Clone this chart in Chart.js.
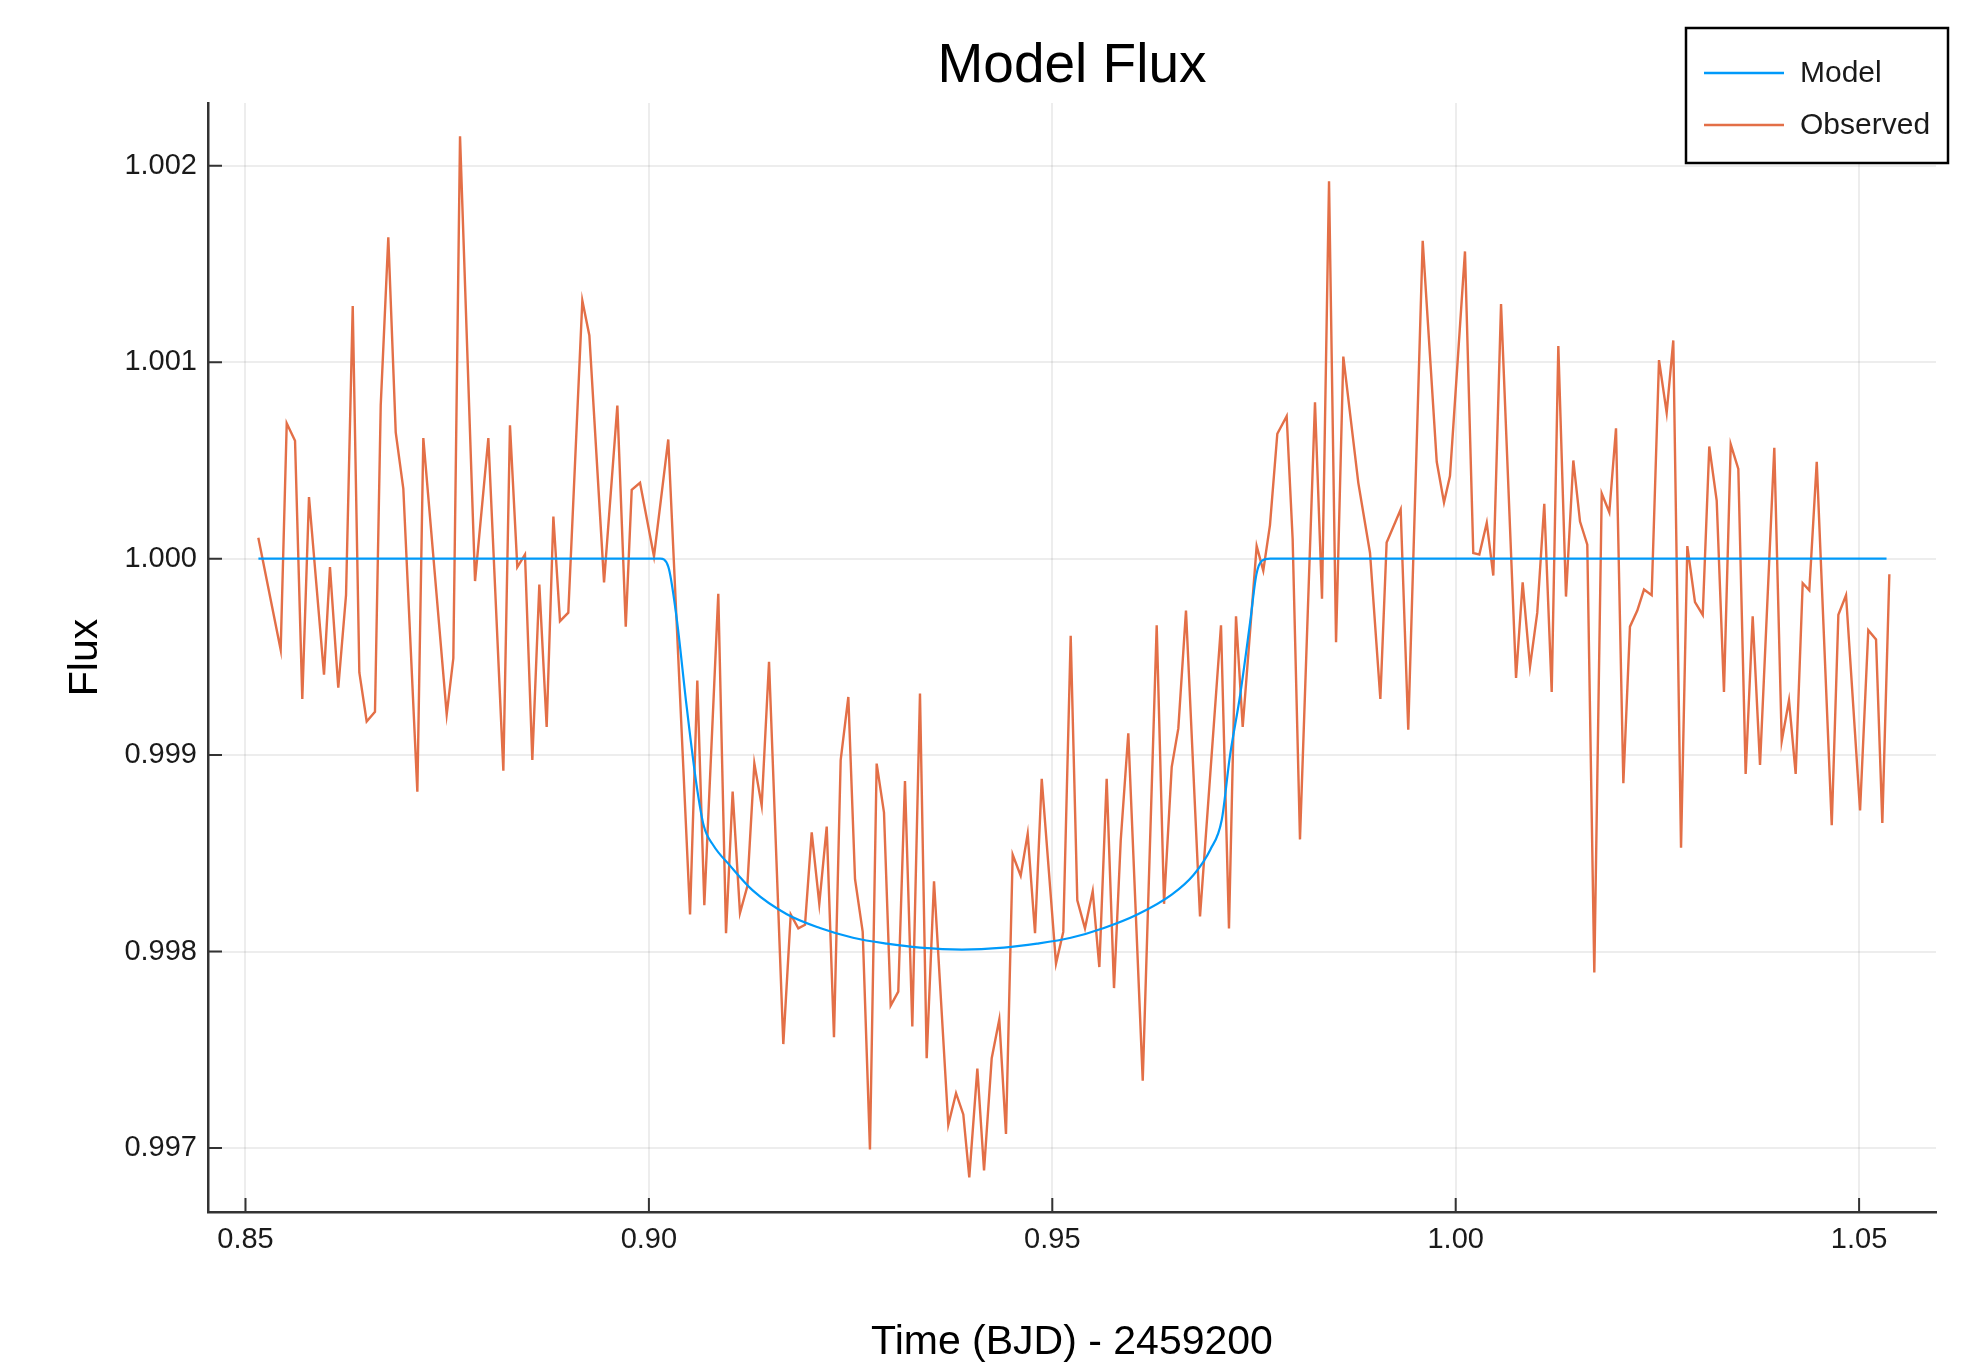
<!DOCTYPE html>
<html>
<head>
<meta charset="utf-8">
<script src="https://cdn.jsdelivr.net/npm/chart.js@4/dist/chart.umd.min.js"></script>
<style>
  html, body { margin: 0; padding: 0; background: #ffffff; }
  #wrap { width: 1969px; height: 1365px; position: relative; }
</style>
</head>
<body>
<div id="wrap"><canvas id="c"></canvas></div>
<script>
// ---- Data ----
const chartTitle = "Model Flux";
const xAxisTitle = "Time (BJD) - 2459200";
const yAxisTitle = "Flux";
const seriesNames = ["Model", "Observed"];

const xTicks = [0.85, 0.90, 0.95, 1.00, 1.05];
const yTicks = [0.997, 0.998, 0.999, 1.000, 1.001, 1.002];

const modelTime = [
  0.8516, 0.9014, 0.9024, 0.9034, 0.9047, 0.9059, 0.9068, 0.9080, 0.9100, 0.9129,
  0.9171, 0.9212, 0.9253, 0.9295, 0.9336, 0.9388, 0.9440, 0.9481, 0.9523, 0.9564,
  0.9606, 0.9648, 0.9675, 0.9696, 0.9710, 0.9720, 0.9733, 0.9745, 0.9753, 0.9760,
  0.9770, 1.0534
];
const modelFlux = [
  1.00000, 1.00000, 0.99996, 0.99971, 0.99924, 0.99885, 0.99864, 0.99854, 0.99844, 0.99831,
  0.99819, 0.99812, 0.99807, 0.99804, 0.99802, 0.99801, 0.99802, 0.99804, 0.99807, 0.99812,
  0.99819, 0.99829, 0.99839, 0.99852, 0.99867, 0.99899, 0.99931, 0.99967, 0.99992, 0.99999,
  1.00000, 1.00000
];

const obsTime = [
  0.85159, 0.85436, 0.85511, 0.85614, 0.85704, 0.85787, 0.85973, 0.86047, 0.86150, 0.86246,
  0.86329, 0.86411, 0.86502, 0.86605, 0.86676, 0.86770, 0.86862, 0.86956, 0.87130, 0.87204,
  0.87494, 0.87576, 0.87659, 0.87845, 0.88010, 0.88196, 0.88278, 0.88369, 0.88464, 0.88555,
  0.88642, 0.88733, 0.88816, 0.88898, 0.89001, 0.89175, 0.89262, 0.89444, 0.89609, 0.89713,
  0.89787, 0.89890, 0.90063, 0.90240, 0.90510, 0.90600, 0.90687, 0.90860, 0.90956, 0.91038,
  0.91129, 0.91220, 0.91307, 0.91398, 0.91489, 0.91666, 0.91758, 0.91852, 0.91935, 0.92018,
  0.92112, 0.92204, 0.92294, 0.92377, 0.92472, 0.92555, 0.92650, 0.92740, 0.92823, 0.92914,
  0.92997, 0.93091, 0.93174, 0.93265, 0.93360, 0.93443, 0.93534, 0.93711, 0.93807, 0.93897,
  0.93971, 0.94071, 0.94154, 0.94249, 0.94343, 0.94426, 0.94509, 0.94608, 0.94695, 0.94786,
  0.94869, 0.95046, 0.95136, 0.95228, 0.95310, 0.95405, 0.95501, 0.95583, 0.95674, 0.95765,
  0.95848, 0.95942, 0.96121, 0.96294, 0.96385, 0.96480, 0.96562, 0.96657, 0.96831, 0.97091,
  0.97190, 0.97277, 0.97360, 0.97533, 0.97615, 0.97698, 0.97789, 0.97905, 0.97979, 0.98070,
  0.98256, 0.98343, 0.98430, 0.98517, 0.98607, 0.98793, 0.98938, 0.99066, 0.99144, 0.99318,
  0.99412, 0.99591, 0.99765, 0.99855, 0.99929, 1.00115, 1.00218, 1.00293, 1.00385, 1.00466,
  1.00562, 1.00748, 1.00830, 1.00921, 1.01011, 1.01098, 1.01190, 1.01272, 1.01367, 1.01458,
  1.01541, 1.01631, 1.01718, 1.01810, 1.01904, 1.01987, 1.02078, 1.02160, 1.02251, 1.02334,
  1.02429, 1.02520, 1.02615, 1.02697, 1.02793, 1.02871, 1.02966, 1.03062, 1.03143, 1.03235,
  1.03325, 1.03409, 1.03503, 1.03594, 1.03681, 1.03772, 1.03949, 1.04041, 1.04131, 1.04214,
  1.04301, 1.04383, 1.04475, 1.04661, 1.04743, 1.04838, 1.05012, 1.05114, 1.05210, 1.05288,
  1.05375
];
const obsFlux = [
  1.000107, 0.999536, 1.000689, 1.000600, 0.999286, 1.000314, 0.999410, 0.999957, 0.999343, 0.999814,
  1.001286, 0.999421, 0.999171, 0.999221, 1.000779, 1.001636, 1.000643, 1.000357, 0.998814, 1.000614,
  0.999207, 0.999493, 1.002150, 0.999886, 1.000614, 0.998921, 1.000679, 0.999957, 1.000021, 0.998975,
  0.999868, 0.999143, 1.000214, 0.999682, 0.999725, 1.001314, 1.001136, 0.999879, 1.000779, 0.999654,
  1.000350, 1.000386, 1.000011, 1.000607, 0.998189, 0.999379, 0.998236, 0.999821, 0.998093, 0.998814,
  0.998196, 0.998332, 0.998957, 0.998743, 0.999475, 0.997529, 0.998189, 0.998118, 0.998136, 0.998607,
  0.998243, 0.998636, 0.997564, 0.998975, 0.999296, 0.998368, 0.998100, 0.996993, 0.998957, 0.998707,
  0.997725, 0.997796, 0.998868, 0.997618, 0.999314, 0.997457, 0.998357, 0.997118, 0.997279, 0.997171,
  0.996850, 0.997404, 0.996886, 0.997457, 0.997654, 0.997071, 0.998493, 0.998386, 0.998600, 0.998093,
  0.998879, 0.997939, 0.998100, 0.999607, 0.998261, 0.998118, 0.998307, 0.997921, 0.998879, 0.997814,
  0.998564, 0.999111, 0.997343, 0.999661, 0.998243, 0.998939, 0.999136, 0.999736, 0.998179, 0.999661,
  0.998118, 0.999707, 0.999143, 1.000064, 0.999939, 1.000171, 1.000636, 1.000725, 1.000100, 0.998571,
  1.000796, 0.999796, 1.001921, 0.999575, 1.001029, 1.000386, 1.000029, 0.999286, 1.000082, 1.000250,
  0.999129, 1.001618, 1.000493, 1.000286, 1.000421, 1.001564, 1.000029, 1.000021, 1.000182, 0.999914,
  1.001296, 0.999393, 0.999879, 0.999450, 0.999725, 1.000279, 0.999321, 1.001082, 0.999807, 1.000500,
  1.000189, 1.000071, 0.997893, 1.000332, 1.000236, 1.000664, 0.998857, 0.999654, 0.999736, 0.999843,
  0.999814, 1.001011, 1.000743, 1.001111, 0.998529, 1.000064, 0.999779, 0.999714, 1.000571, 1.000296,
  0.999321, 1.000582, 1.000457, 0.998904, 0.999707, 0.998950, 1.000564, 0.999071, 0.999279, 0.998904,
  0.999875, 0.999839, 1.000493, 0.998643, 0.999714, 0.999814, 0.998718, 0.999636, 0.999589, 0.998654,
  0.999921
];

// ---- Styling ----
const FONT = "'Liberation Sans', Arial, Helvetica, sans-serif";
const modelColor = "#009AFA";
const obsColor = "#E36F47";

const toXY = (xs, ys) => xs.map((x, i) => ({ x: x, y: ys[i] }));

// Inward tick marks, drawn from the scales' own ticks
const innerTicks = {
  id: 'innerTicks',
  afterDraw(chart) {
    const ctx = chart.ctx, a = chart.chartArea;
    const xs = chart.scales.x, ys = chart.scales.y;
    ctx.save();
    ctx.strokeStyle = '#333333';
    ctx.lineWidth = 2;
    ctx.beginPath();
    xs.ticks.forEach(t => {
      const px = xs.getPixelForValue(t.value);
      ctx.moveTo(px, a.bottom); ctx.lineTo(px, a.bottom - 14);
    });
    ys.ticks.forEach(t => {
      const py = ys.getPixelForValue(t.value);
      ctx.moveTo(a.left, py); ctx.lineTo(a.left + 14, py);
    });
    ctx.stroke();
    ctx.restore();
  }
};

// Boxed legend in the top-right corner
const boxLegend = {
  id: 'boxLegend',
  afterDraw(chart) {
    const ctx = chart.ctx;
    const box = { x: 1686, y: 28, w: 262, h: 135 };
    ctx.save();
    ctx.fillStyle = '#ffffff';
    ctx.fillRect(box.x, box.y, box.w, box.h);
    ctx.strokeStyle = '#000000';
    ctx.lineWidth = 2.5;
    ctx.strokeRect(box.x, box.y, box.w, box.h);
    ctx.font = '30px ' + FONT;
    ctx.textBaseline = 'middle';
    ctx.textAlign = 'left';
    chart.data.datasets.forEach((ds, i) => {
      const y = 73 + i * 52;
      ctx.strokeStyle = ds.borderColor;
      ctx.lineWidth = 2.5;
      ctx.beginPath();
      ctx.moveTo(1704, y); ctx.lineTo(1784, y);
      ctx.stroke();
      ctx.fillStyle = '#1a1a1a';
      ctx.fillText(ds.label, 1800, y + 1);
    });
    ctx.restore();
  }
};

new Chart(document.getElementById('c'), {
  type: 'line',
  data: {
    datasets: [
      {
        label: seriesNames[0],
        data: toXY(modelTime, modelFlux),
        borderColor: modelColor,
        borderWidth: 2.2,
        pointRadius: 0,
        cubicInterpolationMode: 'monotone',
        fill: false
      },
      {
        label: seriesNames[1],
        data: toXY(obsTime, obsFlux),
        borderColor: obsColor,
        borderWidth: 2.4,
        pointRadius: 0,
        tension: 0,
        fill: false
      }
    ]
  },
  options: {
    responsive: true,
    maintainAspectRatio: false,
    animation: false,
    devicePixelRatio: 1,
    layout: { padding: { left: 0, right: 33, top: 0, bottom: 0 } },
    plugins: {
      legend: { display: false },
      tooltip: { enabled: false },
      title: {
        display: true,
        text: chartTitle,
        fullSize: false,
        color: '#000000',
        font: { family: FONT, size: 55, weight: 'normal', lineHeight: 1.2 },
        padding: { top: 34, bottom: 3 }
      }
    },
    scales: {
      x: {
        type: 'linear',
        position: 'bottom',
        min: 0.845352,
        max: 1.059532,
        afterBuildTicks: s => { s.ticks = xTicks.map(v => ({ value: v })); },
        afterFit: s => { s.height = 153; },
        ticks: {
          color: '#1a1a1a',
          padding: 11,
          font: { family: FONT, size: 29 },
          callback: v => v.toFixed(2),
          maxRotation: 0,
          autoSkip: false
        },
        grid: { color: 'rgba(0,0,0,0.07)', lineWidth: 2, drawTicks: false },
        border: { display: true, color: '#333333', width: 2.5 },
        title: {
          display: true,
          text: xAxisTitle,
          color: '#000000',
          font: { family: FONT, size: 41, lineHeight: 1.1 },
          padding: { top: 0, bottom: 0 }
        }
      },
      y: {
        type: 'linear',
        position: 'left',
        min: 0.9966741,
        max: 1.0023197,
        afterBuildTicks: s => { s.ticks = yTicks.map(v => ({ value: v })); },
        afterFit: s => { s.width = 208; },
        ticks: {
          color: '#1a1a1a',
          padding: 11,
          font: { family: FONT, size: 29 },
          callback: v => v.toFixed(3),
          autoSkip: false
        },
        grid: { color: 'rgba(0,0,0,0.07)', lineWidth: 2, drawTicks: false },
        border: { display: true, color: '#333333', width: 2.5 },
        title: {
          display: true,
          text: yAxisTitle,
          color: '#000000',
          font: { family: FONT, size: 41, lineHeight: 1.2 },
          padding: { top: 61, bottom: 0 }
        }
      }
    }
  },
  plugins: [innerTicks, boxLegend]
});
</script>
</body>
</html>
